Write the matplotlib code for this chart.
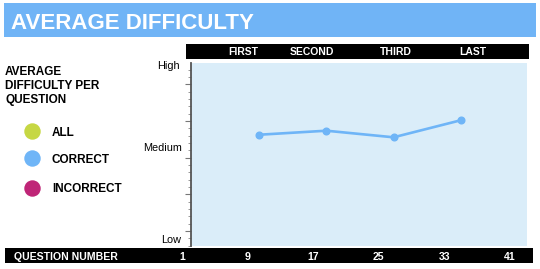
import numpy as np
import matplotlib
matplotlib.use("Agg")
import matplotlib.pyplot as plt
from matplotlib.patches import Rectangle

plt.rcParams['font.family'] = ['Liberation Sans', 'DejaVu Sans']

# datos
quarters = ["FIRST", "SECOND", "THIRD", "LAST"]
question_ticks = [1, 9, 17, 25, 33, 41]
point_question = [10.4, 18.6, 26.8, 35.0]
avg_difficulty_correct = [0.607, 0.629, 0.593, 0.686]
series_names = ["ALL", "CORRECT", "INCORRECT"]
series_colors = ["#c6d743", "#6fb5f7", "#bf2577"]
level_names = ["High", "Medium", "Low"]

W, H = 540, 269
fig = plt.figure(figsize=(W / 100, H / 100), dpi=100)

# capa de fondo en pixeles
bg = fig.add_axes([0, 0, 1, 1])
bg.set_xlim(0, W)
bg.set_ylim(H, 0)
bg.axis("off")

# barra del titulo
bg.add_patch(Rectangle((4, 3), 532, 34, color="#70b4f6", lw=0))
bg.text(11, 29.4, "AVERAGE DIFFICULTY", color="white", fontsize=16,
        fontweight="bold", va="baseline")

# barra superior con cuartos
bg.add_patch(Rectangle((186, 44), 343, 15, color="black", lw=0))
for name, xc in zip(quarters, [243, 312, 396, 473]):
    bg.text(xc, 55, name, color="white", fontsize=7.5, fontweight="bold",
            ha="center", va="baseline")

# barra inferior
bg.add_patch(Rectangle((5, 248), 528, 15, color="black", lw=0))
bg.text(14, 260, "QUESTION NUMBER", color="white", fontsize=7.6,
        fontweight="bold", va="baseline")

# leyenda
for line, yb in zip(["AVERAGE", "DIFFICULTY PER", "QUESTION"], [75, 89.3, 103]):
    bg.text(5, yb, line, fontsize=8.5, fontweight="bold", va="baseline")
for name, col, yc, yb in zip(series_names, series_colors,
                             [131.3, 158.3, 188.3], [136, 163.3, 191.5]):
    bg.scatter([31.7], [yc], s=140, color=col, lw=0)
    bg.text(52, yb, name, fontsize=8.5, fontweight="bold", va="baseline")

# niveles
for name, xr, yb in zip(level_names, [180, 181.7, 181], [69.3, 150.7, 243.3]):
    bg.text(xr, yb, name, fontsize=7.8, ha="right", va="baseline")

# grafico principal
top, bottom, left, right = 62.7, 246, 191, 527
ax = fig.add_axes([left / W, 1 - bottom / H, (right - left) / W, (bottom - top) / H])
ax.set_facecolor("#daedf9")
for s in ["top", "right", "bottom"]:
    ax.spines[s].set_visible(False)
ax.spines["left"].set_color("#555555")
ax.spines["left"].set_linewidth(1.3)

q_px, q1 = 8.2, 182
ax.set_xlim(1 + (left - q1) / q_px, 1 + (right - q1) / q_px)
ax.set_ylim(0, 1)
ax.set_xticks([])
ax.set_yticks(np.arange(0.082, 1, 0.2))
ax.set_yticks(np.arange(0.002, 1, 0.04), minor=True)
ax.tick_params(axis="y", which="major", length=4, width=0.8, color="#777777",
               labelleft=False)
ax.tick_params(axis="y", which="minor", length=2.2, width=0.6, color="#888888")

ax.plot(point_question, avg_difficulty_correct, "-o", color=series_colors[1],
        lw=1.9, markersize=4.8, clip_on=False)

# numeros de pregunta en la barra inferior
yq = (bottom - 260) / (bottom - top)
for q in question_ticks:
    ax.text(q, yq, str(q), transform=ax.get_xaxis_transform(), color="white",
            fontsize=7.6, fontweight="bold", ha="center", va="baseline",
            clip_on=False)

fig.savefig("out.png", dpi=100)
